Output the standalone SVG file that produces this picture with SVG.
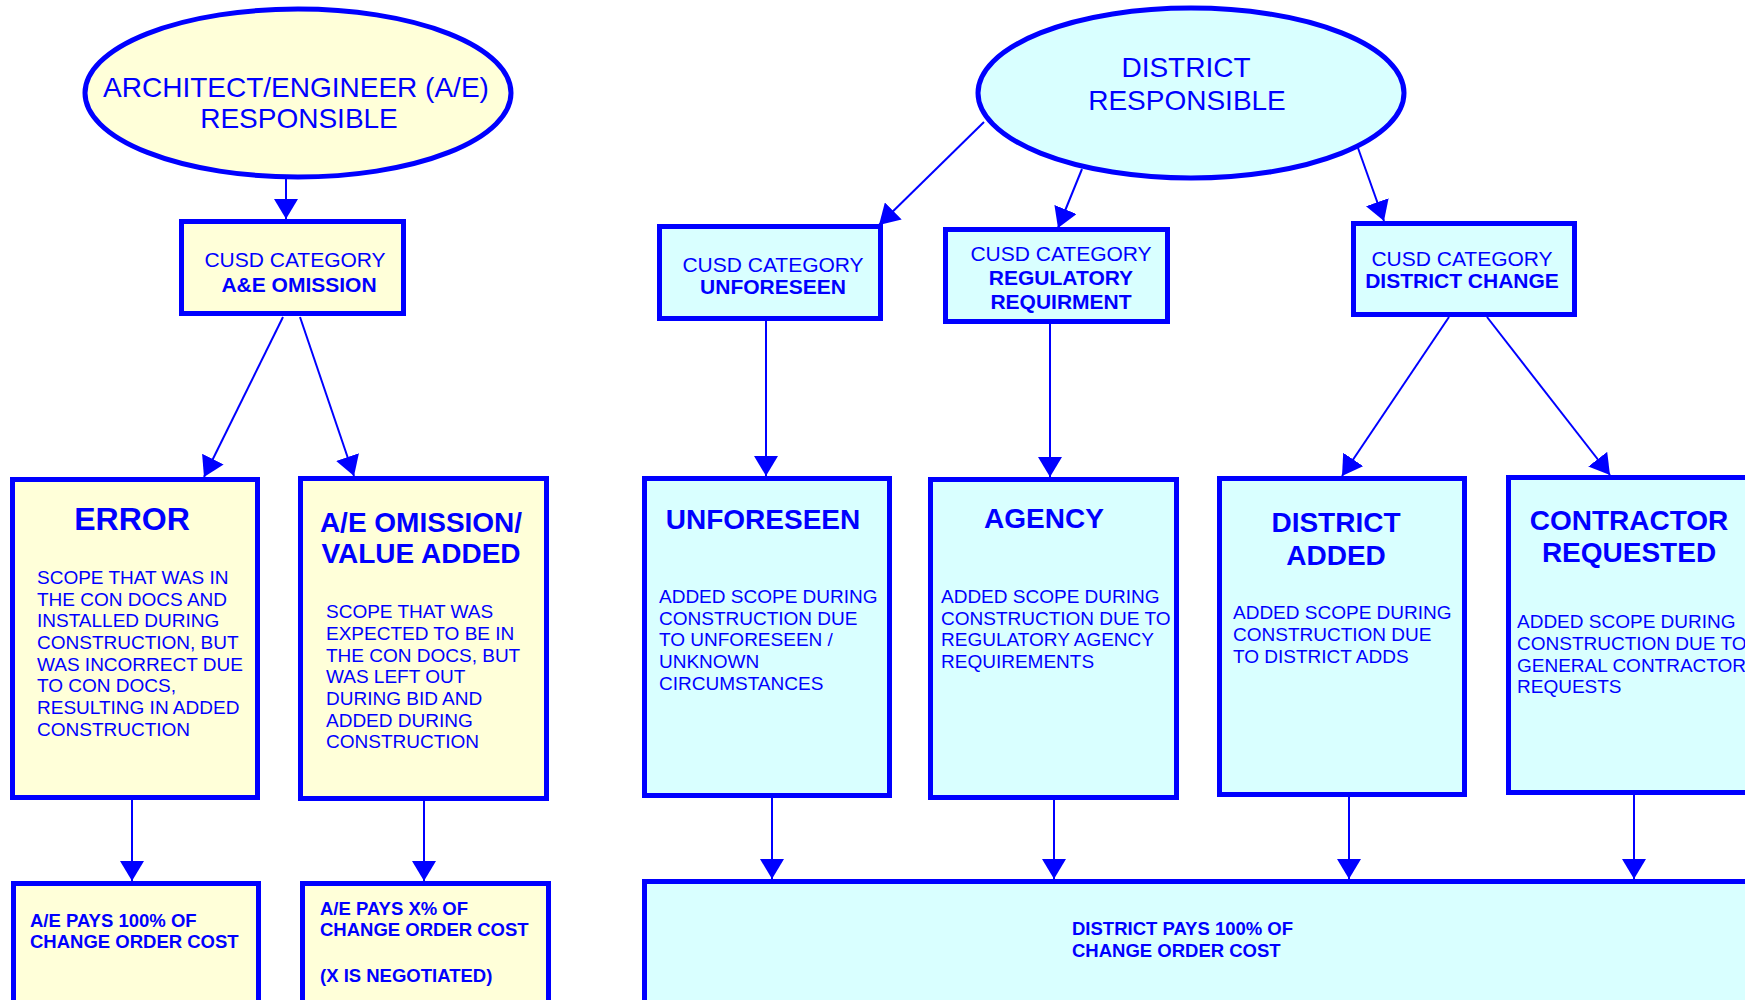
<svg xmlns="http://www.w3.org/2000/svg" width="1745" height="1000" viewBox="0 0 1745 1000">
<style>
.y{fill:#FFFFD9;stroke:#0000FF;stroke-width:5}
.c{fill:#D9FFFF;stroke:#0000FF;stroke-width:5}
.t{font-family:"Liberation Sans",Arial,sans-serif;fill:#0000FF}
.big{font-size:28px}
.cat{font-size:21px;text-anchor:middle}
.hd{font-size:28px;font-weight:bold;text-anchor:middle}
.bd{font-size:19px}
.pay{font-size:18.5px;font-weight:bold}
.b{font-weight:bold}
.m{text-anchor:middle}
.ln{stroke:#0000FF;stroke-width:2;fill:none;marker-end:url(#ah)}
</style>
<defs>
<marker id="ah" markerUnits="userSpaceOnUse" markerWidth="24" markerHeight="24" refX="20" refY="12" orient="auto" viewBox="0 0 24 24">
<path d="M0,0 L20,12 L0,24 Z" fill="#0000FF"/>
</marker>
</defs>
<rect width="1745" height="1000" fill="#FFFFFF"/>
<g id="connectors">
<line class="ln" x1="286" y1="179" x2="286" y2="219"/>
<line class="ln" x1="283" y1="317" x2="204" y2="477"/>
<line class="ln" x1="300" y1="317" x2="354" y2="476"/>
<line class="ln" x1="984" y1="122" x2="879" y2="225"/>
<line class="ln" x1="1082" y1="169" x2="1058" y2="228"/>
<line class="ln" x1="1358" y1="148" x2="1384" y2="221"/>
<line class="ln" x1="766" y1="321" x2="766" y2="476"/>
<line class="ln" x1="1050" y1="324" x2="1050" y2="477"/>
<line class="ln" x1="1449" y1="317" x2="1342" y2="476"/>
<line class="ln" x1="1487" y1="317" x2="1610" y2="475"/>
<line class="ln" x1="132" y1="800" x2="132" y2="881"/>
<line class="ln" x1="424" y1="801" x2="424" y2="881"/>
<line class="ln" x1="772" y1="798" x2="772" y2="879"/>
<line class="ln" x1="1054" y1="800" x2="1054" y2="879"/>
<line class="ln" x1="1349" y1="797" x2="1349" y2="879"/>
<line class="ln" x1="1634" y1="795" x2="1634" y2="879"/>
</g>
<g id="ae-responsible">
<ellipse class="y" cx="298" cy="93" rx="213" ry="84"/>
<text class="t big m" x="296" y="97">ARCHITECT/ENGINEER (A/E)</text>
<text class="t big m" x="299" y="128">RESPONSIBLE</text>
</g>
<g id="district-responsible">
<ellipse class="c" cx="1191" cy="93" rx="213" ry="85"/>
<text class="t big m" x="1186" y="77">DISTRICT</text>
<text class="t big m" x="1187" y="110">RESPONSIBLE</text>
</g>
<g id="cat-ae-omission">
<rect class="y" x="181.5" y="221.5" width="222" height="92"/>
<text class="t cat" x="295" y="267">CUSD CATEGORY</text>
<text class="t cat b" x="299" y="292">A&amp;E OMISSION</text>
</g>
<g id="cat-unforeseen">
<rect class="c" x="659.5" y="226.5" width="221" height="92"/>
<text class="t cat" x="773" y="272">CUSD CATEGORY</text>
<text class="t cat b" x="773" y="294">UNFORESEEN</text>
</g>
<g id="cat-regulatory">
<rect class="c" x="945.5" y="229.5" width="222" height="92"/>
<text class="t cat" x="1061" y="261">CUSD CATEGORY</text>
<text class="t cat b" x="1061" y="285">REGULATORY</text>
<text class="t cat b" x="1061" y="309">REQUIRMENT</text>
</g>
<g id="cat-district-change">
<rect class="c" x="1353.5" y="223.5" width="221" height="91"/>
<text class="t cat" x="1462" y="266">CUSD CATEGORY</text>
<text class="t cat b" x="1462" y="288">DISTRICT CHANGE</text>
</g>
<g id="error">
<rect class="y" x="12.5" y="479.5" width="245" height="318"/>
<text class="t m b" x="132" y="530" font-size="32">ERROR</text>
<text class="t bd" x="37">
<tspan x="37" y="584">SCOPE THAT WAS IN</tspan>
<tspan x="37" y="606">THE CON DOCS AND</tspan>
<tspan x="37" y="627">INSTALLED DURING</tspan>
<tspan x="37" y="649">CONSTRUCTION, BUT</tspan>
<tspan x="37" y="671">WAS INCORRECT DUE</tspan>
<tspan x="37" y="692">TO CON DOCS,</tspan>
<tspan x="37" y="714">RESULTING IN ADDED</tspan>
<tspan x="37" y="736">CONSTRUCTION</tspan>
</text>
</g>
<g id="ae-omission">
<rect class="y" x="300.5" y="478.5" width="246" height="320"/>
<text class="t hd" x="421" y="532">A/E OMISSION/</text>
<text class="t hd" x="421" y="563">VALUE ADDED</text>
<text class="t bd">
<tspan x="326" y="618">SCOPE THAT WAS</tspan>
<tspan x="326" y="640">EXPECTED TO BE IN</tspan>
<tspan x="326" y="662">THE CON DOCS, BUT</tspan>
<tspan x="326" y="683">WAS LEFT OUT</tspan>
<tspan x="326" y="705">DURING BID AND</tspan>
<tspan x="326" y="727">ADDED DURING</tspan>
<tspan x="326" y="748">CONSTRUCTION</tspan>
</text>
</g>
<g id="unforeseen">
<rect class="c" x="644.5" y="478.5" width="245" height="317"/>
<text class="t hd" x="763" y="529">UNFORESEEN</text>
<text class="t bd">
<tspan x="659" y="603">ADDED SCOPE DURING</tspan>
<tspan x="659" y="625">CONSTRUCTION DUE</tspan>
<tspan x="659" y="646">TO UNFORESEEN /</tspan>
<tspan x="659" y="668">UNKNOWN</tspan>
<tspan x="659" y="690">CIRCUMSTANCES</tspan>
</text>
</g>
<g id="agency">
<rect class="c" x="930.5" y="479.5" width="246" height="318"/>
<text class="t hd" x="1044" y="528">AGENCY</text>
<text class="t bd">
<tspan x="941" y="603">ADDED SCOPE DURING</tspan>
<tspan x="941" y="625">CONSTRUCTION DUE TO</tspan>
<tspan x="941" y="646">REGULATORY AGENCY</tspan>
<tspan x="941" y="668">REQUIREMENTS</tspan>
</text>
</g>
<g id="district-added">
<rect class="c" x="1219.5" y="478.5" width="245" height="316"/>
<text class="t hd" x="1336" y="532">DISTRICT</text>
<text class="t hd" x="1336" y="565">ADDED</text>
<text class="t bd">
<tspan x="1233" y="619">ADDED SCOPE DURING</tspan>
<tspan x="1233" y="641">CONSTRUCTION DUE</tspan>
<tspan x="1233" y="663">TO DISTRICT ADDS</tspan>
</text>
</g>
<g id="contractor-requested">
<rect class="c" x="1508.5" y="477.5" width="260" height="315"/>
<text class="t hd" x="1629" y="530">CONTRACTOR</text>
<text class="t hd" x="1629" y="562">REQUESTED</text>
<text class="t bd">
<tspan x="1517" y="628">ADDED SCOPE DURING</tspan>
<tspan x="1517" y="650">CONSTRUCTION DUE TO</tspan>
<tspan x="1517" y="672">GENERAL CONTRACTOR</tspan>
<tspan x="1517" y="693">REQUESTS</tspan>
</text>
</g>
<g id="ae-pays-100">
<rect class="y" x="13.5" y="883.5" width="245" height="140"/>
<text class="t pay">
<tspan x="30" y="927">A/E PAYS 100% OF</tspan>
<tspan x="30" y="948">CHANGE ORDER COST</tspan>
</text>
</g>
<g id="ae-pays-x">
<rect class="y" x="302.5" y="883.5" width="246" height="140"/>
<text class="t pay">
<tspan x="320" y="915">A/E PAYS X% OF</tspan>
<tspan x="320" y="936">CHANGE ORDER COST</tspan>
<tspan x="320" y="982">(X IS NEGOTIATED)</tspan>
</text>
</g>
<g id="district-pays">
<rect class="c" x="644.5" y="881.5" width="1120" height="140"/>
<text class="t pay">
<tspan x="1072" y="935">DISTRICT PAYS 100% OF</tspan>
<tspan x="1072" y="957">CHANGE ORDER COST</tspan>
</text>
</g>
</svg>
